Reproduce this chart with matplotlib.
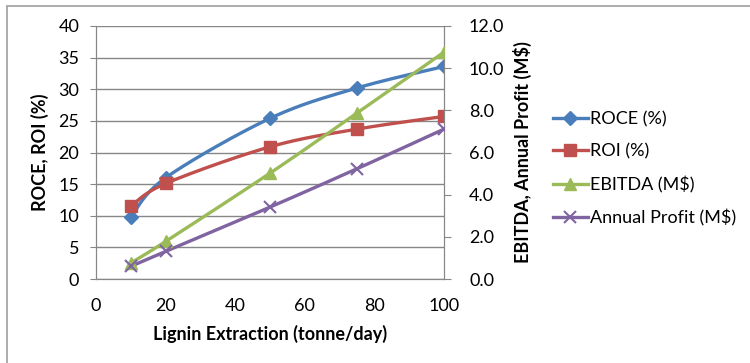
import numpy as np
import matplotlib
matplotlib.use('Agg')
import matplotlib.pyplot as plt
from matplotlib.patches import Rectangle

plt.rcParams['font.family'] = ['Lato', 'DejaVu Sans']

extraction = [10, 20, 50, 75, 100]
roce = [9.8, 16.0, 25.4, 30.2, 33.6]
roi = [11.5, 15.1, 20.9, 23.7, 25.7]
ebitda = [0.76, 1.78, 5.02, 7.87, 10.76]
profit = [0.6, 1.31, 3.41, 5.23, 7.11]

left_ticks = [0, 5, 10, 15, 20, 25, 30, 35, 40]
right_ticks = [0, 2, 4, 6, 8, 10, 12]
x_ticks = [0, 20, 40, 60, 80, 100]

GRID = '#878787'
FS = 13


def smooth(xs, ys, n=40):
    # Catmull-Rom style curve through the points, like spreadsheet smoothed lines
    p = np.column_stack([xs, ys]).astype(float)
    p = np.vstack([p[0], p, p[-1]])
    out = []
    t = np.linspace(0, 1, n)[:, None]
    for i in range(1, len(p) - 2):
        p0, p1, p2, p3 = p[i - 1], p[i], p[i + 1], p[i + 2]
        c1 = p1 + (p2 - p0) / 6
        c2 = p2 - (p3 - p1) / 6
        seg = ((1 - t) ** 3) * p1 + 3 * ((1 - t) ** 2) * t * c1 \
            + 3 * (1 - t) * t ** 2 * c2 + t ** 3 * p2
        out.append(seg)
    out = np.vstack(out)
    return out[:, 0], out[:, 1]


def series(ax, ys, color, marker, ms, label, mew=1.0):
    sx, sy = smooth(extraction, ys)
    ax.plot(sx, sy, color=color, lw=2.4, solid_capstyle='round', zorder=3)
    ax.plot(extraction, ys, ls='none', marker=marker, ms=ms, color=color,
            mec=color, mew=mew, zorder=4)
    return plt.Line2D([], [], color=color, lw=2.4, marker=marker, ms=ms,
                      mec=color, mew=mew, label=label)


fig = plt.figure(figsize=(7.5, 3.63), dpi=100)
fig.patches.append(Rectangle((7 / 750, -0.1), 1.2, 1.1 - 6 / 363,
                             transform=fig.transFigure, fill=False,
                             ec='#a6a6a6', lw=1.3))

ax = fig.add_axes([96 / 750, 1 - 279 / 363, 348 / 750, 253 / 363])
ax2 = ax.twinx()

ax.set_xlim(0, 100)
ax.set_ylim(0, 40)
ax2.set_ylim(0, 12)
ax.set_xticks(x_ticks)
ax.set_yticks(left_ticks)
ax2.set_yticks(right_ticks)
ax2.set_yticklabels([f'{v:.1f}' for v in right_ticks])

ax.grid(axis='y', color=GRID, lw=1.0)
ax.set_axisbelow(True)
for a in (ax, ax2):
    for s in a.spines.values():
        s.set_color(GRID)
    a.spines['top'].set_visible(False)
ax.tick_params(axis='x', length=0, labelsize=FS, pad=14)
ax.tick_params(axis='y', length=4, color=GRID, labelsize=FS, pad=8)
ax2.tick_params(axis='y', length=5, color=GRID, labelsize=FS, pad=13)

h1 = series(ax, roce, '#4a7ebb', 'D', 7, 'ROCE (%)')
h2 = series(ax, roi, '#c0504d', 's', 9, 'ROI (%)')
h3 = series(ax2, ebitda, '#9bbb59', '^', 9, 'EBITDA (M$)')
h4 = series(ax2, profit, '#8064a2', 'x', 9, 'Annual Profit (M$)', mew=1.5)

ax.set_xlabel('Lignin Extraction (tonne/day)', fontsize=FS, fontweight='bold')
ax.set_ylabel('ROCE, ROI (%)', fontsize=FS, fontweight='bold')
ax2.set_ylabel('EBITDA, Annual Profit (M\\$)', fontsize=FS, fontweight='bold')
ax.xaxis.set_label_coords(0.5, -0.182)
ax.yaxis.set_label_coords(-0.135, 0.5)
ax2.yaxis.set_label_coords(1.198, 0.5)

fig.legend(handles=[h1, h2, h3, h4], loc='upper left',
           bbox_to_anchor=(546 / 750, 1 - 104 / 363), frameon=False,
           fontsize=FS, handlelength=1.9, handletextpad=0.15,
           labelspacing=0.9, borderaxespad=0)

fig.savefig('out.png', dpi=100)
